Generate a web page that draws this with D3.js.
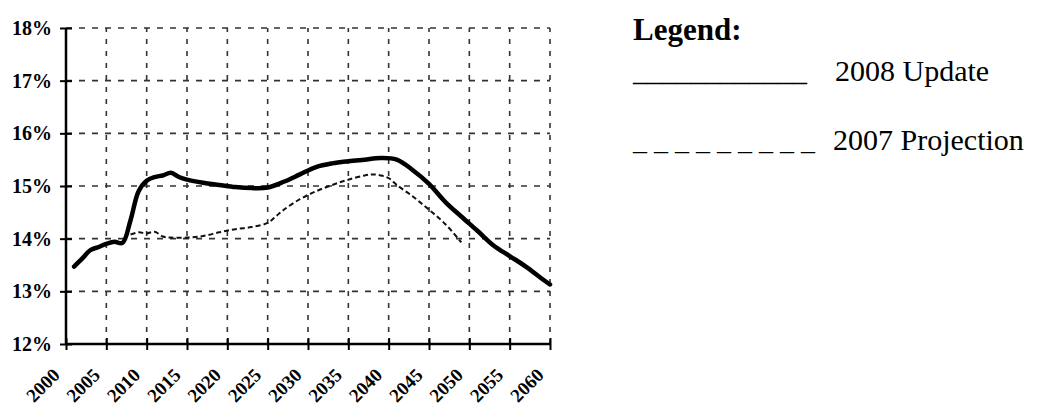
<!DOCTYPE html>
<html>
<head>
<meta charset="utf-8">
<script src="https://cdn.jsdelivr.net/npm/d3@7"></script>
<style>
  body { margin: 0; background: #fff; }
  svg { display: block; }
  text { font-family: "Liberation Serif", "Times New Roman", serif; }
</style>
</head>
<body>
<div id="chart-area"></div>
<script>
// tick values
const xTicks = [2000, 2005, 2010, 2015, 2020, 2025, 2030, 2035, 2040, 2045, 2050, 2055, 2060];
const yTicks = [12, 13, 14, 15, 16, 17, 18];

// 2008 Update (solid)
const updateYears = [2001, 2002, 2003, 2004, 2005, 2006, 2007, 2008, 2009, 2010, 2011, 2012, 2013, 2014, 2015,
  2017, 2019, 2021, 2023, 2025, 2027, 2029, 2031, 2033, 2035, 2037, 2039, 2041, 2043, 2045,
  2047, 2049, 2051, 2053, 2055, 2057, 2059, 2060];
const updateValues = [13.47, 13.62, 13.78, 13.84, 13.9, 13.94, 13.92, 14.35, 14.9, 15.1, 15.17, 15.2, 15.25, 15.17, 15.12,
  15.06, 15.02, 14.98, 14.96, 14.97, 15.08, 15.22, 15.36, 15.43, 15.47, 15.5, 15.53, 15.5, 15.3, 15.04,
  14.7, 14.42, 14.15, 13.87, 13.67, 13.47, 13.24, 13.13];

// 2007 Projection (dashed)
const projYears = [2008, 2009, 2010, 2011, 2012, 2013, 2015, 2017, 2019, 2021, 2023, 2025, 2026, 2027,
  2029, 2031, 2033, 2035, 2037, 2038, 2039, 2040, 2041, 2043, 2045, 2047, 2049];
const projValues = [14.08, 14.12, 14.1, 14.13, 14.04, 14.02, 14.02, 14.05, 14.12, 14.18, 14.22, 14.3, 14.42, 14.55,
  14.75, 14.9, 15.02, 15.12, 15.2, 15.22, 15.2, 15.15, 15.02, 14.8, 14.55, 14.28, 13.93];

const chartWidth = 1037;
const chartHeight = 406;

let svg = d3.select("#chart-area").append("svg")
  .attr("width", chartWidth)
  .attr("height", chartHeight);

const x = d3.scaleLinear().domain([2000, 2060]).range([66, 550]);
const y = d3.scaleLinear().domain([12, 18]).range([344, 28]);

// grid
svg.append("g").selectAll("line").data(yTicks.slice(1)).enter().append("line")
  .attr("x1", x(2000)).attr("x2", x(2060))
  .attr("y1", d => y(d)).attr("y2", d => y(d))
  .attr("stroke", "#333").attr("stroke-width", 1.6)
  .attr("stroke-dasharray", "6,7");

svg.append("g").selectAll("line").data(xTicks.slice(1)).enter().append("line")
  .attr("x1", d => x(d)).attr("x2", d => x(d))
  .attr("y1", y(12)).attr("y2", y(18))
  .attr("stroke", "#333").attr("stroke-width", 1.6)
  .attr("stroke-dasharray", "5,7");

// axes
let xAxisCall = d3.axisBottom(x).tickValues(xTicks).tickSize(6).tickFormat(d3.format("d"));
let xAxis = svg.append("g")
  .attr("transform", `translate(0, ${y(12)})`)
  .call(xAxisCall);
xAxis.select(".domain").attr("stroke-width", 2.5).attr("d", `M${x(2000)},0H${x(2060)}`);
xAxis.selectAll(".tick line").attr("y1", -6).attr("stroke-width", 2);
xAxis.selectAll(".tick text")
  .attr("font-size", "19px")
  .attr("font-weight", "bold")
  .attr("font-family", "'Liberation Serif', serif")
  .attr("text-anchor", "end")
  .attr("dy", null)
  .attr("transform", "translate(-12, 26) rotate(-45)");

let yAxisCall = d3.axisLeft(y).tickValues(yTicks).tickSize(6).tickFormat(d => d + "%");
let yAxis = svg.append("g")
  .attr("transform", `translate(${x(2000)}, 0)`)
  .call(yAxisCall);
yAxis.select(".domain").attr("stroke-width", 2.5).attr("d", `M0,${y(12)}V${y(18)}`);
yAxis.selectAll(".tick line").attr("x2", 6).attr("x1", -6).attr("stroke-width", 2);
yAxis.selectAll(".tick text")
  .attr("font-size", "20px")
  .attr("font-weight", "bold")
  .attr("font-family", "'Liberation Serif', serif")
  .attr("x", -14);

// lines
const line = d3.line()
  .x(d => x(d[0]))
  .y(d => y(d[1]))
  .curve(d3.curveCatmullRom.alpha(0.5));

svg.append("path")
  .datum(projYears.map((d, i) => [d, projValues[i]]))
  .attr("d", line)
  .attr("fill", "none")
  .attr("stroke", "#111")
  .attr("stroke-width", 2)
  .attr("stroke-dasharray", "5,3");

svg.append("path")
  .datum(updateYears.map((d, i) => [d, updateValues[i]]))
  .attr("d", line)
  .attr("fill", "none")
  .attr("stroke", "#000")
  .attr("stroke-width", 4.5)
  .attr("stroke-linejoin", "round")
  .attr("stroke-linecap", "round");

// legend (text, as in the source document)
svg.append("text")
  .attr("x", 633).attr("y", 40)
  .attr("font-size", "31px").attr("font-weight", "bold")
  .text("Legend:");

svg.append("text")
  .attr("x", 633).attr("y", 81)
  .attr("font-size", "29px")
  .text("____________");
svg.append("text")
  .attr("x", 835).attr("y", 81)
  .attr("font-size", "30px")
  .text("2008 Update");

svg.append("text")
  .attr("x", 633).attr("y", 150)
  .attr("font-size", "28px")
  .attr("xml:space", "preserve")
  .style("white-space", "pre")
  .text("_ _ _ _ _ _ _ _ _");
svg.append("text")
  .attr("x", 833).attr("y", 150)
  .attr("font-size", "30px")
  .text("2007 Projection");
</script>
</body>
</html>
